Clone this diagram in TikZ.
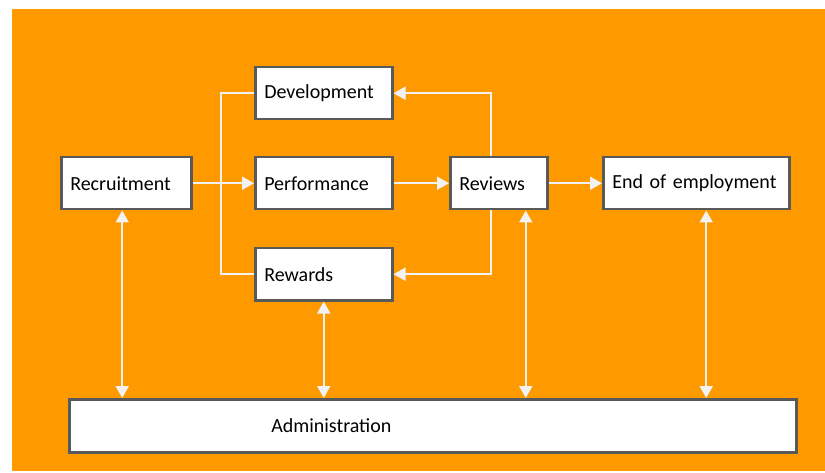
\documentclass[tikz,border=0pt]{standalone}
\usepackage{fontspec}
\setmainfont{Carlito}
\usetikzlibrary{arrows.meta}
\definecolor{hrorange}{RGB}{255,153,0}
\definecolor{boxgray}{RGB}{89,89,89}
\definecolor{linewhite}{RGB}{242,242,242}
\tikzset{
  stage/.style={draw=boxgray, line width=2.5pt, fill=white, anchor=north west,
    minimum height=52pt, inner xsep=9pt, align=left,
    font=\fontsize{20}{24}\selectfont},
  flow/.style={draw=linewhite, line width=2pt, -{Triangle[length=12pt,width=13pt]}},
  bothway/.style={draw=linewhite, line width=2pt, {Triangle[length=12pt,width=13pt]}-{Triangle[length=12pt,width=13pt]}},
  link/.style={draw=linewhite, line width=2pt}
}
\begin{document}
\begin{tikzpicture}[x=1pt, y=-1pt]
    \useasboundingbox (0,0) rectangle (825,473);
    \fill[hrorange] (12,9) rectangle (825,471);

    \node[stage, text width=112pt] (recruit) at (60,156) {Recruitment};
    \node[stage, text width=119pt] (dev) at (254,66) {Development};
    \node[stage, text width=119pt] (perf) at (254,156) {Performance};
    \node[stage, text width=119pt] (rewards) at (254,247) {Rewards};
    \node[stage, text width=79pt] (reviews) at (449,156) {Reviews};
    \node[stage, text width=168pt] (endemp) at (602,156) {End of employment};
    \node[stage, text width=709pt, minimum height=53pt] (admin) at (68,398) {\hspace*{193pt}Administration};

    \draw[flow] (recruit) -- (perf);
    \draw[flow] (perf) -- (reviews);
    \draw[flow] (reviews) -- (endemp);

    \draw[flow] ([xshift=-8pt]reviews.north) |- (dev);
    \draw[flow] ([xshift=-8pt]reviews.south) |- (rewards);
    \draw[link] (dev.west) -- ++(-33,0) |- (rewards.west);

    \draw[bothway] ([xshift=-4pt]recruit.south) -- ([xshift=-4pt]recruit.south |- admin.north);
    \draw[bothway] (rewards.south) -- (rewards.south |- admin.north);
    \draw[bothway] ([xshift=27pt]reviews.south) -- ([xshift=27pt]reviews.south |- admin.north);
    \draw[bothway] ([xshift=10pt]endemp.south) -- ([xshift=10pt]endemp.south |- admin.north);
\end{tikzpicture}
\end{document}
